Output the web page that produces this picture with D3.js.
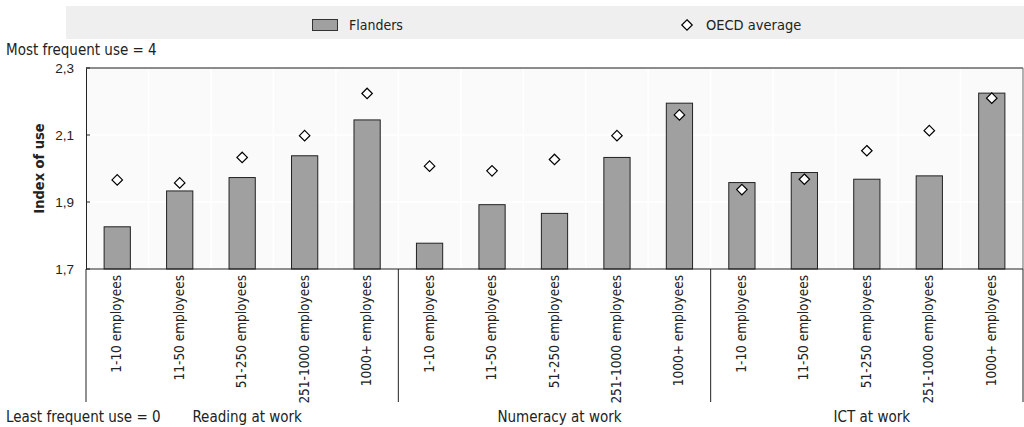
<!DOCTYPE html>
<html><head><meta charset="utf-8">
<script src="https://cdn.jsdelivr.net/npm/d3@7/dist/d3.min.js"></script>
<style>
body{margin:0;background:#fff;}
svg{display:block;font-family:"DejaVu Sans Condensed","Liberation Sans Narrow","DejaVu Sans",sans-serif;}
</style></head>
<body><svg id="c" width="1024" height="427"></svg>
<script>
const groups = ["Reading at work", "Numeracy at work", "ICT at work"];
const sizes = ["1-10 employees", "11-50 employees", "51-250 employees", "251-1000 employees", "1000+ employees"];
const flanders = [1.826, 1.933, 1.973, 2.038, 2.145,  1.777, 1.892, 1.866, 2.033, 2.195,  1.958, 1.988, 1.968, 1.978, 2.225];
const oecd     = [1.966, 1.957, 2.033, 2.098, 2.224,  2.007, 1.993, 2.027, 2.098, 2.160,  1.937, 1.968, 2.053, 2.113, 2.210];
const yTicks = [1.7, 1.9, 2.1, 2.3];
const seriesNames = ["Flanders", "OECD average"];

const data = [];
groups.forEach((g, gi) => sizes.forEach((s, si) => {
  const i = gi * sizes.length + si;
  data.push({key: i, group: g, size: s, f: flanders[i], o: oecd[i]});
}));

const svg = d3.select("#c");
const L = 86, R = 1023, T = 68, B = 269;
const x = d3.scaleBand().domain(data.map(d => d.key)).range([L, R]).paddingInner(0.58).paddingOuter(0.29);
const xb = d3.scaleBand().domain(data.map(d => d.key)).range([L, R]);
const y = d3.scaleLinear().domain([1.7, 2.3]).range([B, T]);

// legend
svg.append("rect").attr("x", 66).attr("y", 6).attr("width", 958).attr("height", 33).attr("fill", "#efefef");
svg.append("rect").attr("x", 312.5).attr("y", 19.5).attr("width", 25).attr("height", 11).attr("fill", "#a0a0a0").attr("stroke", "#333").attr("stroke-width", 1);
svg.append("text").attr("x", 349).attr("y", 29.5).attr("font-size", 14).attr("fill", "#222").text(seriesNames[0]);
svg.append("path").attr("d", d3.symbol().type(d3.symbolDiamond2).size(70)()).attr("transform", "translate(687,25)")
  .attr("fill", "#fff").attr("stroke", "#000").attr("stroke-width", 1.2);
svg.append("text").attr("x", 706).attr("y", 29.5).attr("font-size", 14.5).attr("fill", "#222").text(seriesNames[1]);

// plot background
svg.append("rect").attr("x", L).attr("y", T).attr("width", R - L).attr("height", B - T).attr("fill", "#fafafa");
// vertical white grid
svg.append("g").selectAll("line").data(data.slice(1)).join("line")
  .attr("x1", d => xb(d.key)).attr("x2", d => xb(d.key)).attr("y1", T).attr("y2", B)
  .attr("stroke", "#fff").attr("stroke-width", 1.5);
svg.append("g").selectAll("line").data(yTicks.slice(1, -1)).join("line")
  .attr("x1", L).attr("x2", R).attr("y1", d => y(d)).attr("y2", d => y(d))
  .attr("stroke", "#fff").attr("stroke-width", 1.5);

// bars
svg.append("g").selectAll("rect").data(data).join("rect")
  .attr("x", d => x(d.key)).attr("width", x.bandwidth())
  .attr("y", d => y(d.f)).attr("height", d => B - y(d.f))
  .attr("fill", "#a0a0a0").attr("stroke", "#222").attr("stroke-width", 1);

// diamonds
svg.append("g").selectAll("path").data(data).join("path")
  .attr("d", d3.symbol().type(d3.symbolDiamond2).size(70)())
  .attr("transform", d => `translate(${xb(d.key) + xb.bandwidth() / 2},${y(d.o)})`)
  .attr("fill", "#fff").attr("stroke", "#000").attr("stroke-width", 1.2);

// frame
svg.append("line").attr("x1", L).attr("x2", R).attr("y1", T).attr("y2", T).attr("stroke", "#666").attr("stroke-width", 1.5);
svg.append("line").attr("x1", R).attr("x2", R).attr("y1", T).attr("y2", B).attr("stroke", "#666").attr("stroke-width", 1);

// y axis
const ya = svg.append("g").attr("transform", `translate(${L},0)`)
  .call(d3.axisLeft(y).tickValues(yTicks).tickSize(0).tickPadding(12).tickFormat(d => d3.format(".1f")(d).replace(".", ",")));
ya.select(".domain").attr("stroke", "#222");
ya.selectAll("text").attr("font-size", 13.5).attr("fill", "#222").attr("font-family", null);
svg.append("g").selectAll("line").data(yTicks).join("line")
  .attr("x1", L).attr("x2", L + 4).attr("y1", d => y(d)).attr("y2", d => y(d)).attr("stroke", "#222");

// bottom axis
svg.append("line").attr("x1", L).attr("x2", R).attr("y1", B).attr("y2", B).attr("stroke", "#222").attr("stroke-width", 1);
// group separators
const sepX = [L, xb(5), xb(10), R];
svg.append("g").selectAll("line").data(sepX).join("line")
  .attr("x1", d => d).attr("x2", d => d).attr("y1", B).attr("y2", 402).attr("stroke", "#222").attr("stroke-width", 1);

// category labels
svg.append("g").selectAll("text").data(data).join("text")
  .attr("transform", d => `translate(${xb(d.key) + xb.bandwidth() / 2 + 4},275) rotate(-90)`)
  .attr("text-anchor", "end").attr("font-size", 13.5).attr("fill", "#222").text(d => d.size);

// group labels
svg.append("g").selectAll("text").data(groups).join("text")
  .attr("x", (d, i) => (xb(i * 5) + xb(i * 5 + 4) + xb.bandwidth()) / 2 + 5)
  .attr("y", 422).attr("text-anchor", "middle").attr("font-size", 15).attr("fill", "#222").text(d => d);

svg.append("text").attr("x", 6).attr("y", 422).attr("font-size", 15).attr("fill", "#222").text("Least frequent use = 0");
svg.append("text").attr("x", 6).attr("y", 55).attr("font-size", 15).attr("fill", "#222").text("Most frequent use = 4");
svg.append("text").attr("transform", `translate(44,${(T + B) / 2}) rotate(-90)`).attr("text-anchor", "middle")
  .attr("font-size", 14.5).attr("font-weight", "bold").attr("fill", "#222").text("Index of use");
</script></body></html>
